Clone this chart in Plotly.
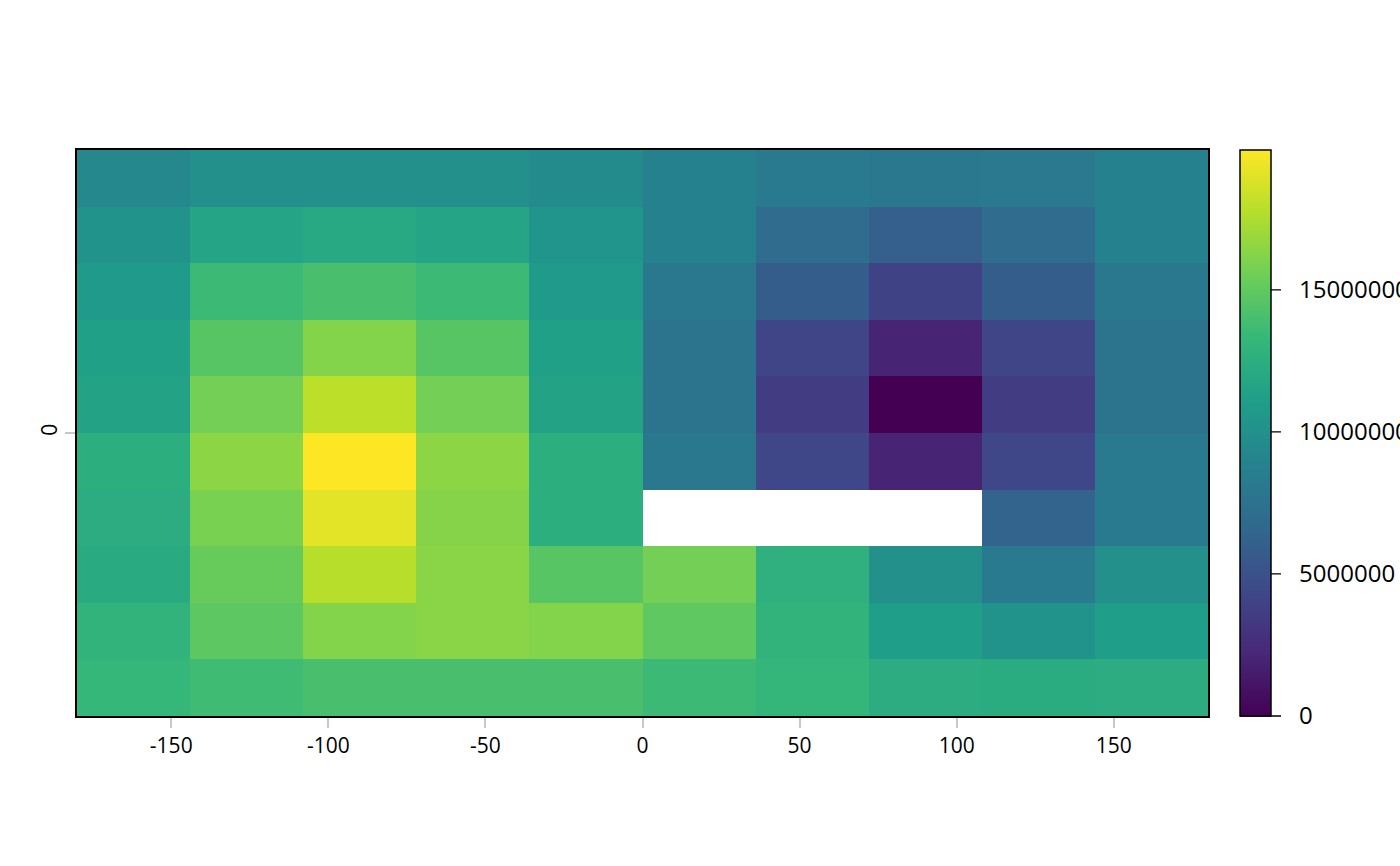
import plotly.graph_objects as go

lon = [-162, -126, -90, -54, -18, 18, 54, 90, 126, 162]
lat = [81, 63, 45, 27, 9, -9, -27, -45, -63, -81]
nan = None

row1 = [9360000, 9960000, 9960000, 9960000, 9560000, 8760000, 8170000, 7970000, 8070000, 8760000]
row2 = [10160000, 11650000, 11950000, 11650000, 10360000, 8760000, 6970000, 5980000, 6970000, 8760000]
row3 = [10760000, 13550000, 14040000, 13550000, 10760000, 7970000, 5880000, 3980000, 5880000, 7970000]
row4 = [11250000, 14640000, 16140000, 14640000, 11250000, 7570000, 4180000, 1990000, 4180000, 7570000]
row5 = [11450000, 15640000, 17930000, 15640000, 11450000, 7570000, 3590000, 0, 3590000, 7570000]
row6 = [12450000, 16430000, 19920000, 16430000, 12450000, 7970000, 4280000, 1990000, 4280000, 8170000]
row7 = [12350000, 15840000, 19120000, 16230000, 12450000, nan, nan, nan, 6370000, 8170000]
row8 = [12150000, 15240000, 17730000, 16330000, 14640000, 15640000, 12650000, 9960000, 8170000, 9960000]
row9 = [12950000, 14840000, 16140000, 16330000, 16140000, 14940000, 12950000, 11060000, 10160000, 11060000]
row10 = [13250000, 13650000, 14040000, 14040000, 14040000, 13550000, 13150000, 12350000, 12250000, 12350000]

z = [row1, row2, row3, row4, row5, row6, row7, row8, row9, row10]

x_ticks = [-150, -100, -50, 0, 50, 100, 150]
y_ticks = [0]
cb_ticks = [0, 5000000, 10000000, 15000000]

vals = [v for r in z for v in r if v is not None]
zmin, zmax = min(vals), max(vals)

FONT = "Open Sans"
PLOT_W = 1131  # plot area width in px (1400 - 77 - 192)
CB_X = 1.0283
CB_T = 31

fig = go.Figure()
fig.add_trace(go.Heatmap(
    x=lon, y=lat, z=z,
    colorscale="Viridis", zmin=zmin, zmax=zmax,
    hoverongaps=False,
    colorbar=dict(
        x=CB_X, xanchor="left", xref="paper",
        y=0.5, yanchor="middle", len=1, lenmode="fraction",
        thickness=CB_T, thicknessmode="pixels",
        outlinewidth=1.5, outlinecolor="black",
        tickmode="array", tickvals=cb_ticks, ticktext=[str(v) for v in cb_ticks],
        ticks="outside", ticklen=23, tickwidth=1, tickcolor="rgba(0,0,0,0)",
        tickfont=dict(family=FONT, size=24, color="black"),
        xpad=0, ypad=0,
    ),
))

# legend tick lines: across the colour bar and a short stub outside it
cb_x0 = CB_X
cb_x1 = CB_X + (CB_T + 10) / PLOT_W
for v in cb_ticks:
    yy = (v - zmin) / (zmax - zmin)
    fig.add_shape(type="line", xref="paper", yref="paper",
                  x0=cb_x0, x1=cb_x1, y0=yy, y1=yy,
                  line=dict(color="black", width=1.3))

fig.update_layout(
    width=1400, height=866,
    margin=dict(l=77, r=192, t=150, b=150, autoexpand=False),
    paper_bgcolor="white", plot_bgcolor="white",
    font=dict(family=FONT, color="black"),
    showlegend=False,
)
fig.update_xaxes(
    range=[-180, 180], showgrid=False, zeroline=False,
    showline=True, mirror=True, linecolor="black", linewidth=1.5,
    tickmode="array", tickvals=x_ticks, ticktext=[str(v) for v in x_ticks],
    ticks="outside", ticklen=10, tickwidth=1.5, tickcolor="#c8c8c8",
    tickfont=dict(family=FONT, size=21, color="black"),
)
fig.update_yaxes(
    range=[-90, 90], showgrid=False, zeroline=False,
    showline=True, mirror=True, linecolor="black", linewidth=1.5,
    tickmode="array", tickvals=y_ticks, ticktext=[str(v) for v in y_ticks],
    ticks="outside", ticklen=10, tickwidth=1.5, tickcolor="#c8c8c8",
    tickangle=-90,
    tickfont=dict(family=FONT, size=21, color="black"),
)

fig.write_html("out.html", config={"displayModeBar": False},
               post_script="document.body.style.margin='0';document.body.style.overflow='hidden';")
